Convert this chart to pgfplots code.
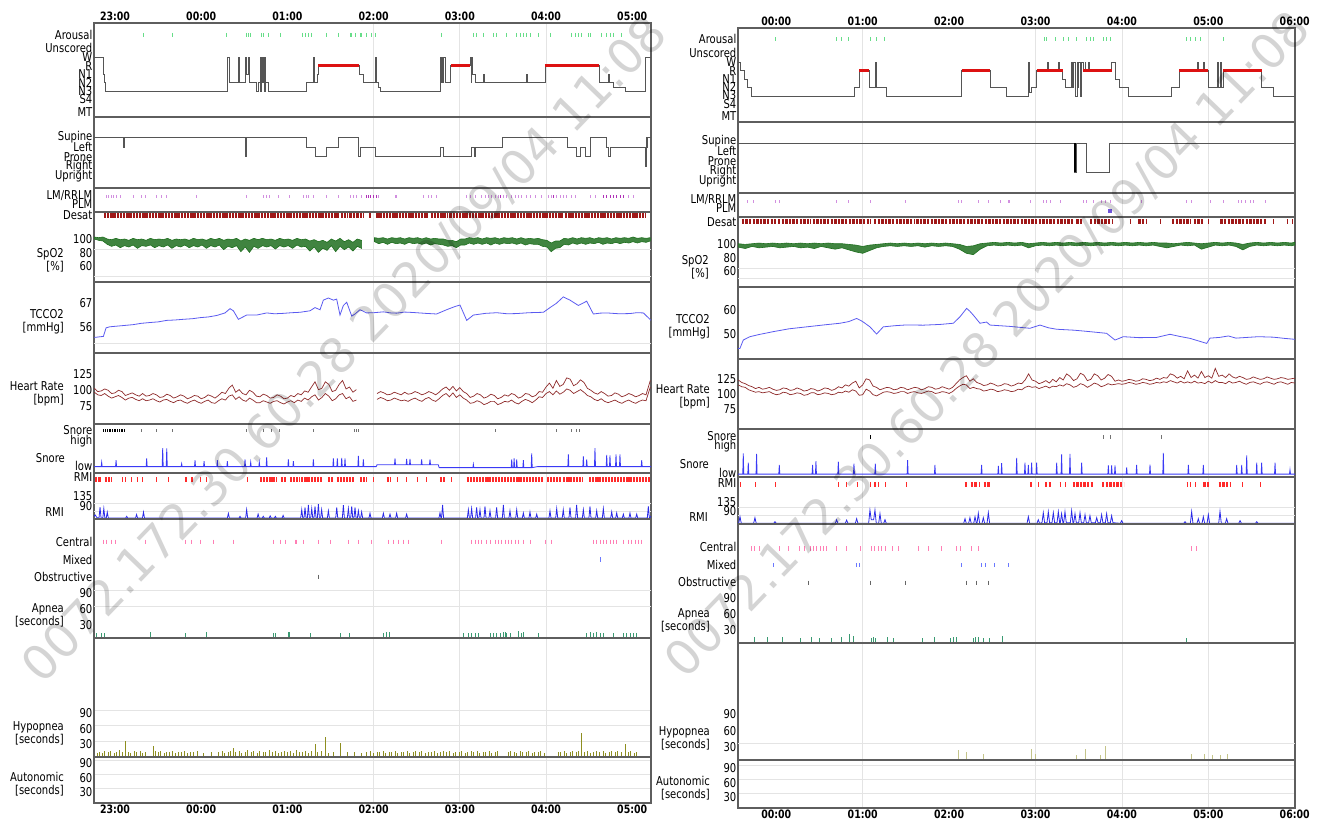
\documentclass[border=0pt]{standalone}
\usepackage{fontspec}
\setmainfont{DejaVu Sans}[FakeStretch=0.82]
\newfontfamily\wmfont{DejaVu Sans}
\usepackage{pgfplots}
\pgfplotsset{compat=1.18}
\definecolor{hyp}{HTML}{555555}
\definecolor{remc}{HTML}{DD1111}
\definecolor{arou}{HTML}{66DD88}
\definecolor{lmc}{HTML}{D28FE0}
\definecolor{lmd}{HTML}{B030B8}
\definecolor{desat}{HTML}{A01818}
\definecolor{spo}{HTML}{1E6E1E}
\definecolor{tcc}{HTML}{5A5AF0}
\definecolor{hrc}{HTML}{8E2A2A}
\definecolor{snc}{HTML}{3A3AF5}
\definecolor{rmiev}{HTML}{FF2A2A}
\definecolor{rmic}{HTML}{2A2AE8}
\definecolor{cenc}{HTML}{FF7FB5}
\definecolor{mixc}{HTML}{6A78FF}
\definecolor{obsc}{HTML}{666666}
\definecolor{apc}{HTML}{3A9A72}
\definecolor{hypc}{HTML}{8E8E20}
\definecolor{hypr}{HTML}{C4C48A}
\definecolor{framec}{HTML}{5E5E5E}
\definecolor{gridc}{HTML}{E4E4E4}
\newcommand{\lab}{\fontsize{12.2}{13.2}\selectfont}
\newcommand{\tim}{\fontsize{11.5}{12}\selectfont\bfseries}
\pgfplotsset{
  base/.style={scale only axis, anchor=north west, width=557pt,
    axis line style={draw=framec, line width=1.6pt},
    major tick length=0pt,
    tick label style={font=\lab, text=black},
    yticklabel style={inner sep=1.5pt},
    xticklabels={}, xmajorgrids,
    major grid style={draw=gridc, line width=0.8pt},
    unbounded coords=jump,
    /pgf/number format/assume math mode=true},
  L/.style={base, xmin=22.756, xmax=29.218, xtick={26,27,28}},
  R/.style={base, xmin=23.557, xmax=30.003, xtick={25,27,28,29}},
  ev/.style={only marks, mark=|, mark size=2pt, mark options={line width=0.9pt}},
  sh/.style={yticklabel style={yshift=-3pt}},
  gl/.style={extra y ticks={#1}, extra y tick labels={}, extra y tick style={grid=major}},
  lbl/.style={scale only axis, anchor=north west, width=557pt, ymin=0, ymax=1, ytick=\empty,
    axis line style={draw=none}, major tick length=0pt,
    xticklabel style={font=\tim, inner sep=2pt}}
}
\newcommand{\sidelab}[3]{\node[anchor=east, align=right, font=\lab, inner sep=0pt] at (#1pt,-#2pt) {#3};}
\begin{document}
\begin{tikzpicture}
\path[use as bounding box] (0,0) rectangle (1318pt,-823pt);
% ================= LEFT PANEL =================
\begin{axis}[L, at={(94pt,-23pt)}, height=94pt, ymin=0, ymax=11,
  ytick={9.6,8.08,7,6,5,4,3,2.1,0.6}, yticklabels={Arousal,Unscored,W,R,N1,N2,N3,S4,MT}]
\addplot[const plot, draw=hyp, line width=0.9pt] coordinates {(22.756,7)(22.864,5)(22.875,4)(22.889,3)(24.307,7)(24.326,4)(24.43,7)(24.44,4)(24.508,7)(24.52,5)(24.547,7)(24.555,4)(24.644,3)(24.66,4)(24.682,7)(24.69,3)(24.70,7)(24.71,4)(24.72,7)(24.73,3)(24.74,7)(24.75,4)(24.778,3)(25.224,4)(25.30,7)(25.315,4)(25.345,5)(25.359,6)(25.834,5)(25.88,4)(26.023,7)(26.035,4)(26.051,3.5)(26.074,3)(26.77,7)(26.78,4)(26.79,7)(26.80,4)(26.81,7)(26.828,4)(26.894,6)(27.118,7)(27.13,4)(27.14,7)(27.15,5)(27.176,4)(27.27,5)(27.28,4)(27.768,5)(27.78,4)(27.988,6)(28.618,4)(28.719,5)(28.734,4)(28.777,3.5)(28.916,3)(29.148,7)(29.218,7)};
\addplot[draw=remc, line width=2.6pt] coordinates {(25.359,6)(25.834,6)(25.834,nan)(26.894,6)(27.118,6)(27.118,nan)(27.988,6)(28.618,6)};
\addplot[ev, color=arou] coordinates {(23.329,9.6)(23.665,9.6)(24.296,9.6)(24.528,9.6)(24.547,9.6)(24.566,9.6)(24.694,9.6)(24.72,9.6)(24.783,9.6)(24.922,9.6)(25.173,9.6)(25.204,9.6)(25.243,9.6)(25.282,9.6)(25.456,9.6)(25.591,9.6)(25.726,9.6)(25.746,9.6)(25.784,9.6)(25.842,9.6)(25.862,9.6)(25.92,9.6)(25.978,9.6)(26.016,9.6)(26.79,9.6)(27.157,9.6)(27.188,9.6)(27.273,9.6)(27.389,9.6)(27.428,9.6)(27.544,9.6)(27.66,9.6)(27.698,9.6)(27.737,9.6)(27.776,9.6)(27.814,9.6)(27.911,9.6)(28.046,9.6)(28.298,9.6)(28.336,9.6)(28.375,9.6)(28.414,9.6)(28.491,9.6)(28.51,9.6)(28.646,9.6)(28.704,9.6)(28.742,9.6)(28.781,9.6)(28.878,9.6)};
\end{axis}
\begin{axis}[L, at={(94pt,-117pt)}, height=71pt, ymin=-0.24, ymax=7.1,
  ytick={5,4,3,2,1}, yticklabels={Supine,Left,Prone,Right,Upright}]
\addplot[const plot, draw=hyp, line width=0.9pt] coordinates {(22.756,5)(23.1,4)(23.106,5)(24.513,3)(24.519,5)(25.224,4)(25.32,3)(25.448,4)(25.591,5)(25.823,3)(25.842,4)(26.016,3)(26.77,4)(26.805,3)(27.138,4)(27.17,3)(27.18,4)(27.498,5)(28.247,4)(28.357,3)(28.403,4)(28.453,3)(28.51,5)(28.696,4)(28.719,3)(28.742,4)(29.148,2)(29.16,5)(29.172,4)(29.18,5)(29.218,5)};
\end{axis}
\begin{axis}[L, at={(94pt,-188pt)}, height=24pt, ymin=0, ymax=1,
  ytick={0.67,0.33}, yticklabels={LM/RRLM,PLM}]
\addplot[ev, color=lmc, mark size=1.6pt] coordinates {(22.896,0.64)(22.923,0.64)(22.954,0.64)(22.98,0.64)(23.019,0.64)(23.066,0.64)(23.213,0.64)(23.309,0.64)(23.348,0.64)(23.483,0.64)(23.541,0.64)(23.6,0.64)(23.94,0.64)(24.527,0.64)(24.721,0.64)(24.76,0.64)(24.79,0.64)(24.895,0.64)(25.022,0.64)(25.185,0.64)(25.216,0.64)(25.243,0.64)(25.301,0.64)(25.448,0.64)(25.591,0.64)(25.726,0.64)(25.765,0.64)(25.804,0.64)(25.862,0.64)(26.055,0.64)(26.248,0.64)(26.267,0.64)(26.577,0.64)(26.635,0.64)(26.673,0.64)(26.731,0.64)(27.08,0.64)(27.118,0.64)(27.176,0.64)(27.253,0.64)(27.292,0.64)(27.331,0.64)(27.37,0.64)(27.408,0.64)(27.447,0.64)(27.505,0.64)(27.544,0.64)(27.602,0.64)(27.64,0.64)(27.679,0.64)(27.718,0.64)(27.776,0.64)(27.814,0.64)(27.872,0.64)(27.95,0.64)(28.027,0.64)(28.066,0.64)(28.124,0.64)(28.162,0.64)(28.201,0.64)(28.24,0.64)(28.298,0.64)(28.336,0.64)(28.51,0.64)(28.568,0.64)(28.955,0.64)(29.013,0.64)};
\addplot[ev, color=lmd, mark size=1.6pt] coordinates {(25.92,0.64)(25.939,0.64)(25.958,0.64)(25.997,0.64)(26.036,0.64)(27.466,0.64)(28.085,0.64)(28.665,0.64)(28.704,0.64)(28.742,0.64)(28.781,0.64)(28.82,0.64)(28.858,0.64)(28.897,0.64)};
\end{axis}
\begin{axis}[L, sh, at={(94pt,-212pt)}, height=70pt, ymin=31.5, ymax=136.5,
  ytick={136.3,100,80,60}, yticklabels={Desat,100,80,60}, gl={80,40}]
\addplot[draw=desat, line width=5pt, dash pattern=on 2.4pt off 0.8pt] coordinates {(22.87,131.3)(25.6,131.3)(25.6,nan)(25.62,131.3)(25.7,131.3)(25.7,nan)(25.72,131.3)(25.78,131.3)(25.78,nan)(25.8,131.3)(25.88,131.3)(25.88,nan)(25.95,131.3)(25.97,131.3)(25.97,nan)(26.03,131.3)(26.63,131.3)(26.63,nan)(26.66,131.3)(26.85,131.3)(26.85,nan)(26.88,131.3)(28.2,131.3)(28.2,nan)(28.22,131.3)(29.15,131.3)};
\addplot[fill=spo!85, draw=spo, line width=0.6pt] coordinates {(22.76,99)(22.81,98)(22.86,99)(22.91,96)(22.96,95)(23.01,97)(23.06,95)(23.11,96)(23.16,94)(23.21,97)(23.26,95)(23.31,96)(23.36,94)(23.41,97)(23.46,95)(23.51,96)(23.56,95)(23.61,97)(23.66,94)(23.71,96)(23.76,95)(23.81,96)(23.86,94)(23.91,97)(23.96,95)(24.01,96)(24.06,94)(24.11,97)(24.16,95)(24.21,97)(24.26,94)(24.31,96)(24.36,95)(24.41,97)(24.46,93)(24.51,96)(24.56,94)(24.61,97)(24.66,95)(24.71,97)(24.76,95)(24.81,96)(24.86,94)(24.91,97)(24.96,95)(25.01,96)(25.06,94)(25.11,97)(25.16,95)(25.21,96)(25.26,93)(25.31,95)(25.36,92)(25.41,94)(25.46,91)(25.51,96)(25.56,93)(25.61,97)(25.66,92)(25.71,95)(25.76,91)(25.81,96)(25.86,94)
(25.86,82)(25.81,85)(25.76,78)(25.71,84)(25.66,80)(25.61,85)(25.56,77)(25.51,86)(25.46,79)(25.41,82)(25.36,76)(25.31,84)(25.26,78)(25.21,85)(25.16,84)(25.11,87)(25.06,82)(25.01,86)(24.96,84)(24.91,86)(24.86,81)(24.81,86)(24.76,84)(24.71,86)(24.66,82)(24.61,85)(24.56,76)(24.51,84)(24.46,77)(24.41,86)(24.36,83)(24.31,85)(24.26,80)(24.21,87)(24.16,84)(24.11,86)(24.06,82)(24.01,87)(23.96,84)(23.91,86)(23.86,83)(23.81,87)(23.76,84)(23.71,86)(23.66,82)(23.61,87)(23.56,84)(23.51,86)(23.46,83)(23.41,87)(23.36,85)(23.31,86)(23.26,82)(23.21,87)(23.16,84)(23.11,86)(23.06,83)(23.01,87)(22.96,85)(22.91,88)(22.86,93)(22.81,94)(22.76,96)} -- cycle;
\addplot[fill=spo!85, draw=spo, line width=0.6pt] coordinates {(26.01,98)(26.06,97)(26.11,98)(26.16,96)(26.21,98)(26.26,97)(26.31,98)(26.36,96)(26.41,98)(26.46,97)(26.51,98)(26.56,96)(26.61,98)(26.66,96)(26.71,97)(26.76,96)(26.81,96)(26.86,94)(26.91,94)(26.96,92)(27.01,96)(27.06,96)(27.11,98)(27.16,97)(27.21,98)(27.26,96)(27.31,98)(27.36,97)(27.41,98)(27.46,96)(27.51,98)(27.56,97)(27.61,98)(27.66,96)(27.71,98)(27.76,96)(27.81,97)(27.86,96)(27.91,97)(27.96,95)(28.01,94)(28.06,90)(28.11,93)(28.16,93)(28.21,97)(28.26,96)(28.31,98)(28.36,96)(28.41,98)(28.46,97)(28.51,98)(28.56,96)(28.61,98)(28.66,97)(28.71,98)(28.76,96)(28.81,98)(28.86,97)(28.91,98)(28.96,97)(29.01,99)(29.06,97)(29.11,98)(29.16,97)(29.21,98)
(29.21,93)(29.16,91)(29.11,92)(29.06,90)(29.01,92)(28.96,90)(28.91,91)(28.86,89)(28.81,91)(28.76,89)(28.71,90)(28.66,88)(28.61,91)(28.56,89)(28.51,90)(28.46,88)(28.41,90)(28.36,88)(28.31,90)(28.26,87)(28.21,88)(28.16,83)(28.11,82)(28.06,77)(28.01,84)(27.96,85)(27.91,88)(27.86,88)(27.81,89)(27.76,87)(27.71,90)(27.66,88)(27.61,90)(27.56,89)(27.51,90)(27.46,88)(27.41,90)(27.36,87)(27.31,90)(27.26,88)(27.21,90)(27.16,88)(27.11,90)(27.06,87)(27.01,87)(26.96,83)(26.91,86)(26.86,85)(26.81,87)(26.76,88)(26.71,89)(26.66,87)(26.61,90)(26.56,88)(26.51,90)(26.46,89)(26.41,91)(26.36,88)(26.31,90)(26.26,89)(26.21,91)(26.16,88)(26.11,91)(26.06,89)(26.01,92)} -- cycle;
\end{axis}
\begin{axis}[L, at={(94pt,-282pt)}, height=71pt, ymin=43.7, ymax=77,
  ytick={67,56}, gl={48}]
\addplot[draw=tcc, line width=0.8pt] coordinates {(22.76,51)(22.865,51.5)(22.896,55.5)(22.94,56)(23.05,56.4)(23.21,57)(23.3,57.6)(23.406,58)(23.5,58.3)(23.6,59)(23.7,59.2)(23.79,59.5)(23.9,59.8)(23.99,60.3)(24.08,60.6)(24.18,61.3)(24.276,62.5)(24.334,64.5)(24.373,63.5)(24.431,59.5)(24.527,61.5)(24.643,61.5)(24.76,62.5)(24.85,62.1)(24.953,62.3)(25.05,62.6)(25.146,62.8)(25.262,63.5)(25.32,65)(25.378,64)(25.417,68.5)(25.475,69.5)(25.533,68.5)(25.571,69)(25.61,61.5)(25.649,66)(25.688,67.5)(25.746,61)(25.784,62)(25.842,64)(25.92,62.5)(26.0,62.6)(26.113,63)(26.2,62.5)(26.267,62.4)(26.36,62.9)(26.46,62.7)(26.6,62.3)(26.73,62.0)(26.847,64)(26.944,65.5)(27.002,66.2)(27.08,59)(27.157,61.5)(27.3,62.3)(27.43,62.6)(27.55,62.1)(27.66,62.2)(27.8,62.6)(27.97,62.8)(28.046,65)(28.12,67)(28.2,70)(28.278,68.5)(28.375,66)(28.472,68)(28.549,62)(28.63,62.4)(28.704,62.5)(28.85,62.1)(28.974,62.2)(29.05,62.6)(29.13,62.5)(29.218,59)};
\end{axis}
\begin{axis}[L, sh, at={(94pt,-353pt)}, height=71pt, ymin=43.3, ymax=152.1,
  ytick={125,100,75}]
\addplot[draw=hrc, line width=0.7pt] coordinates {(22.76,98)(22.8,93)(22.84,94)(22.88,97)(22.92,95)(22.96,90)(23.00,91)(23.04,95)(23.08,93)(23.12,87)(23.16,89)(23.2,91)(23.24,88)(23.28,86)(23.32,90)(23.36,86)(23.40,87)(23.44,90)(23.48,88)(23.52,84)(23.56,85)(23.6,89)(23.64,87)(23.68,83)(23.72,85)(23.76,88)(23.80,86)(23.84,82)(23.88,84)(23.92,87)(23.96,86)(24.0,82)(24.04,84)(24.08,88)(24.12,86)(24.16,83)(24.20,87)(24.24,92)(24.28,90)(24.32,98)(24.36,103)(24.4,92)(24.44,96)(24.48,90)(24.52,88)(24.56,95)(24.60,92)(24.64,86)(24.68,85)(24.72,89)(24.76,87)(24.8,83)(24.84,84)(24.88,88)(24.92,86)(24.96,82)(25.00,83)(25.04,87)(25.08,85)(25.12,90)(25.16,88)(25.2,94)(25.24,92)(25.28,100)(25.32,108)(25.36,96)(25.40,98)(25.44,108)(25.48,104)(25.52,93)(25.56,95)(25.6,104)(25.64,110)(25.68,97)(25.72,100)(25.76,92)(25.80,96)(25.85,nan)(26.04,90)(26.08,93)(26.12,91)(26.16,88)(26.20,89)(26.24,92)(26.28,90)(26.32,88)(26.36,92)(26.4,89)(26.44,90)(26.48,93)(26.52,91)(26.56,88)(26.60,90)(26.64,93)(26.68,91)(26.72,88)(26.76,92)(26.8,97)(26.84,100)(26.88,95)(26.92,101)(26.96,94)(27.00,99)(27.04,93)(27.08,90)(27.12,84)(27.16,86)(27.2,90)(27.24,88)(27.28,83)(27.32,85)(27.36,89)(27.40,87)(27.44,82)(27.48,84)(27.52,88)(27.56,86)(27.6,90)(27.64,88)(27.68,83)(27.72,85)(27.76,90)(27.80,89)(27.84,85)(27.88,87)(27.92,93)(27.96,92)(28.0,100)(28.04,106)(28.08,98)(28.12,110)(28.16,101)(28.20,104)(28.24,114)(28.28,112)(28.32,102)(28.36,105)(28.4,111)(28.44,107)(28.48,98)(28.52,95)(28.56,91)(28.60,89)(28.64,93)(28.68,90)(28.72,86)(28.76,87)(28.8,91)(28.84,89)(28.88,85)(28.92,87)(28.96,90)(29.00,88)(29.04,85)(29.08,87)(29.12,90)(29.16,88)(29.21,110)};
\addplot[draw=hrc, line width=0.7pt] coordinates {(22.76,92)(22.8,88)(22.84,87)(22.88,90)(22.92,86)(22.96,83)(23.00,85)(23.04,87)(23.08,84)(23.12,80)(23.16,83)(23.2,84)(23.24,81)(23.28,79)(23.32,82)(23.36,79)(23.40,80)(23.44,82)(23.48,79)(23.52,77)(23.56,80)(23.6,81)(23.64,78)(23.68,76)(23.72,79)(23.76,80)(23.80,77)(23.84,75)(23.88,78)(23.92,80)(23.96,77)(24.0,75)(24.04,78)(24.08,80)(24.12,76)(24.16,75)(24.20,79)(24.24,82)(24.28,80)(24.32,86)(24.36,88)(24.4,81)(24.44,85)(24.48,80)(24.52,78)(24.56,83)(24.60,80)(24.64,76)(24.68,76)(24.72,79)(24.76,77)(24.8,75)(24.84,78)(24.88,79)(24.92,76)(24.96,74)(25.00,77)(25.04,79)(25.08,76)(25.12,80)(25.16,78)(25.2,83)(25.24,80)(25.28,85)(25.32,88)(25.36,80)(25.40,84)(25.44,90)(25.48,86)(25.52,79)(25.56,82)(25.6,88)(25.64,90)(25.68,82)(25.72,85)(25.76,78)(25.80,80)(25.85,nan)(26.04,81)(26.08,84)(26.12,82)(26.16,79)(26.20,80)(26.24,83)(26.28,81)(26.32,79)(26.36,80)(26.4,78)(26.44,81)(26.48,83)(26.52,80)(26.56,78)(26.60,82)(26.64,84)(26.68,80)(26.72,78)(26.76,82)(26.8,87)(26.84,90)(26.88,85)(26.92,91)(26.96,84)(27.00,88)(27.04,83)(27.08,80)(27.12,75)(27.16,76)(27.2,79)(27.24,77)(27.28,73)(27.32,75)(27.36,78)(27.40,78)(27.44,73)(27.48,75)(27.52,78)(27.56,77)(27.6,80)(27.64,76)(27.68,74)(27.72,78)(27.76,81)(27.80,79)(27.84,76)(27.88,80)(27.92,85)(27.96,84)(28.0,90)(28.04,93)(28.08,88)(28.12,94)(28.16,89)(28.20,92)(28.24,97)(28.28,95)(28.32,90)(28.36,93)(28.4,96)(28.44,92)(28.48,87)(28.52,85)(28.56,81)(28.60,79)(28.64,82)(28.68,78)(28.72,76)(28.76,78)(28.8,80)(28.84,77)(28.88,75)(28.92,78)(28.96,80)(29.00,77)(29.04,75)(29.08,78)(29.12,80)(29.16,79)(29.21,100)};
\end{axis}
\begin{axis}[L, at={(94pt,-424pt)}, height=49pt, ymin=0, ymax=10,
  ytick={8.78,6.6,1.43}, yticklabels={Snore,high,low}]
\addplot[ev, color=black, mark size=1.6pt] coordinates {(22.87,8.64)(22.89,8.64)(22.91,8.64)(22.93,8.64)(22.95,8.64)(22.97,8.64)(22.99,8.64)(23.01,8.64)(23.03,8.64)(23.05,8.64)(23.07,8.64)(23.09,8.64)(23.11,8.64)};
\addplot[ev, color=black!55, mark size=1.6pt] coordinates {(23.31,8.64)(23.48,8.64)(23.67,8.64)(24.53,8.64)(24.72,8.64)(24.82,8.64)(24.91,8.64)(25.30,8.64)(25.78,8.64)(25.80,8.64)(25.82,8.64)(27.41,8.64)(28.124,8.64)(28.30,8.64)(28.35,8.64)(28.39,8.64)};
\addplot[draw=snc, line width=0.8pt] coordinates {(22.76,1.3)(22.839,1.3)(22.845,2.2)(22.851,1.3)(23.006,1.3)(23.012,2.6)(23.018,1.3)(23.361,1.3)(23.367,3.0)(23.373,1.3)(23.547,1.3)(23.553,5.1)(23.559,1.3)(23.594,1.3)(23.6,5.0)(23.606,1.3)(23.767,1.3)(23.773,1.9)(23.779,1.3)(23.922,1.3)(23.928,2.6)(23.934,1.3)(24.027,1.3)(24.033,2.4)(24.039,1.3)(24.181,1.3)(24.187,2.6)(24.193,1.3)(24.297,1.3)(24.303,2.4)(24.309,1.3)(24.502,1.3)(24.508,2.8)(24.514,1.3)(24.568,1.3)(24.574,2.2)(24.58,1.3)(24.668,1.3)(24.674,2.2)(24.68,1.3)(24.753,1.3)(24.759,3.2)(24.765,1.3)(25.005,1.3)(25.011,2.8)(25.017,1.3)(25.063,1.3)(25.069,2.4)(25.075,1.3)(25.295,1.3)(25.301,2.8)(25.307,1.3)(25.527,1.3)(25.533,3.0)(25.539,1.3)(25.573,1.3)(25.579,3.0)(25.585,1.3)(25.624,1.3)(25.63,3.1)(25.636,1.3)(25.662,1.3)(25.668,3.0)(25.674,1.3)(25.817,1.3)(25.823,3.5)(25.829,1.3)(25.875,1.3)(25.881,2.8)(25.887,1.3)(26.03,1.3)(26.04,1.7)(26.242,1.7)(26.248,3.0)(26.254,1.7)(26.377,1.7)(26.383,2.9)(26.389,1.7)(26.416,1.7)(26.422,2.9)(26.428,1.7)(26.551,1.7)(26.557,2.8)(26.563,1.7)(26.648,1.7)(26.654,2.8)(26.66,1.7)(26.75,1.7)(26.76,1.1)(27.151,1.1)(27.157,1.8)(27.163,1.1)(27.596,1.1)(27.602,2.8)(27.608,1.1)(27.624,1.1)(27.63,3.0)(27.636,1.1)(27.654,1.1)(27.66,2.8)(27.666,1.1)(27.731,1.1)(27.737,2.6)(27.743,1.1)(27.828,1.1)(27.834,4.0)(27.84,1.1)(27.9,1.3)(28.253,1.3)(28.259,3.8)(28.265,1.3)(28.427,1.3)(28.433,3.4)(28.439,1.3)(28.466,1.3)(28.472,2.8)(28.478,1.3)(28.562,1.3)(28.568,5.1)(28.574,1.3)(28.698,1.3)(28.704,3.7)(28.71,1.3)(28.736,1.3)(28.742,3.6)(28.748,1.3)(28.806,1.3)(28.812,3.8)(28.818,1.3)(28.852,1.3)(28.858,3.8)(28.864,1.3)(29.104,1.3)(29.11,2.6)(29.116,1.3)(29.218,1.3)};
\end{axis}
\begin{axis}[L, sh, at={(94pt,-473pt)}, height=46pt, ymin=18, ymax=225,
  ytick={222,135,90}, yticklabels={RMI,135,90}, gl={90,50}]
\addplot[draw=rmiev, line width=5pt, dash pattern=on 2.2pt off 0.9pt] coordinates {(22.77,196.7)(22.84,196.7)(22.84,nan)(22.88,196.7)(22.97,196.7)(22.97,nan)(23.08,196.7)(23.09,196.7)(23.09,nan)(23.12,196.7)(23.13,196.7)(23.13,nan)(23.19,196.7)(23.2,196.7)(23.2,nan)(23.25,196.7)(23.26,196.7)(23.26,nan)(23.31,196.7)(23.32,196.7)(23.32,nan)(23.48,196.7)(23.49,196.7)(23.49,nan)(23.62,196.7)(23.63,196.7)(23.63,nan)(23.81,196.7)(23.83,196.7)(23.83,nan)(23.88,196.7)(23.9,196.7)(23.9,nan)(23.99,196.7)(24.0,196.7)(24.0,nan)(24.06,196.7)(24.07,196.7)(24.07,nan)(24.53,196.7)(24.54,196.7)(24.54,nan)(24.68,196.7)(24.77,196.7)(24.77,nan)(24.79,196.7)(24.88,196.7)(24.88,nan)(24.92,196.7)(24.99,196.7)(24.99,nan)(25.03,196.7)(25.14,196.7)(25.14,nan)(25.16,196.7)(25.41,196.7)(25.41,nan)(25.47,196.7)(25.53,196.7)(25.53,nan)(25.57,196.7)(25.78,196.7)(25.78,nan)(25.84,196.7)(25.92,196.7)(25.92,nan)(25.99,196.7)(26.0,196.7)(26.0,nan)(26.15,196.7)(26.19,196.7)(26.19,nan)(26.27,196.7)(26.28,196.7)(26.28,nan)(26.38,196.7)(26.39,196.7)(26.39,nan)(26.5,196.7)(26.51,196.7)(26.51,nan)(26.61,196.7)(26.62,196.7)(26.62,nan)(26.77,196.7)(26.83,196.7)(26.83,nan)(26.9,196.7)(26.91,196.7)(26.91,nan)(27.08,196.7)(27.97,196.7)(27.97,nan)(28.01,196.7)(28.17,196.7)(28.17,nan)(28.2,196.7)(28.43,196.7)(28.43,nan)(28.5,196.7)(29.21,196.7)};
\addplot[draw=rmic, line width=0.8pt] coordinates {(22.756,30)(22.77,36)(22.79,24)(22.814,22)(22.826,71)(22.838,22)(22.858,22)(22.87,65)(22.882,22)(22.898,22)(22.91,49)(22.922,22)(23.123,22)(23.135,30)(23.147,22)(23.238,22)(23.25,38)(23.262,22)(23.318,22)(23.33,49)(23.342,22)(24.303,22)(24.315,43)(24.327,22)(24.438,22)(24.45,30)(24.462,22)(24.515,22)(24.527,60)(24.539,22)(24.648,22)(24.66,40)(24.672,22)(24.708,22)(24.72,30)(24.732,22)(24.788,22)(24.8,32)(24.812,22)(24.848,22)(24.86,30)(24.872,22)(24.938,22)(24.95,34)(24.962,22)(25.154,22)(25.166,60)(25.178,22)(25.192,22)(25.204,70)(25.216,22)(25.231,22)(25.243,81)(25.255,22)(25.27,22)(25.282,65)(25.294,22)(25.308,22)(25.32,75)(25.332,22)(25.347,22)(25.359,85)(25.371,22)(25.385,22)(25.397,60)(25.409,22)(25.463,22)(25.475,55)(25.487,22)(25.56,22)(25.572,70)(25.584,22)(25.637,22)(25.649,80)(25.661,22)(25.695,22)(25.707,65)(25.719,22)(25.734,22)(25.746,75)(25.758,22)(25.772,22)(25.784,70)(25.796,22)(25.811,22)(25.823,55)(25.835,22)(25.849,22)(25.861,50)(25.873,22)(25.946,22)(25.958,44)(25.97,22)(26.101,22)(26.113,44)(26.125,22)(26.178,22)(26.19,40)(26.202,22)(26.255,22)(26.267,44)(26.279,22)(26.371,22)(26.383,40)(26.395,22)(26.758,22)(26.77,45)(26.782,22)(26.788,22)(26.8,81)(26.812,22)(27.087,22)(27.099,60)(27.111,22)(27.125,22)(27.137,65)(27.149,22)(27.183,22)(27.195,70)(27.207,22)(27.222,22)(27.234,60)(27.246,22)(27.28,22)(27.292,75)(27.304,22)(27.338,22)(27.35,55)(27.362,22)(27.415,22)(27.427,70)(27.439,22)(27.493,22)(27.505,81)(27.517,22)(27.57,22)(27.582,55)(27.594,22)(27.648,22)(27.66,60)(27.672,22)(27.725,22)(27.737,45)(27.749,22)(27.802,22)(27.814,50)(27.826,22)(27.88,22)(27.892,40)(27.904,22)(28.034,22)(28.046,55)(28.058,22)(28.112,22)(28.124,65)(28.136,22)(28.188,22)(28.2,60)(28.212,22)(28.266,22)(28.278,70)(28.29,22)(28.343,22)(28.355,81)(28.367,22)(28.421,22)(28.433,60)(28.445,22)(28.498,22)(28.51,75)(28.522,22)(28.576,22)(28.588,55)(28.6,22)(28.653,22)(28.665,65)(28.677,22)(28.75,22)(28.762,50)(28.774,22)(28.808,22)(28.82,45)(28.832,22)(28.885,22)(28.897,40)(28.909,22)(28.962,22)(28.974,45)(28.986,22)(29.04,22)(29.052,40)(29.064,22)(29.175,22)(29.187,75)(29.199,22)(29.218,30)};
\end{axis}
\begin{axis}[L, sh, at={(94pt,-519pt)}, height=119pt, ymin=0, ymax=223.3,
  ytick={186,153,120.6,90,60,30}, yticklabels={Central,Mixed,Obstructive,90,60,30}, gl={90,60}]
\addplot[ev, color=cenc, mark size=2.2pt] coordinates {(22.865,180.6)(22.903,180.6)(22.961,180.6)(23.0,180.6)(23.348,180.6)(23.812,180.6)(23.889,180.6)(23.986,180.6)(24.141,180.6)(24.373,180.6)(24.837,180.6)(24.914,180.6)(24.972,180.6)(25.088,180.6)(25.108,180.6)(25.185,180.6)(25.359,180.6)(25.494,180.6)(25.707,180.6)(25.823,180.6)(25.978,180.6)(26.17,180.6)(26.229,180.6)(26.287,180.6)(26.345,180.6)(26.403,180.6)(26.789,180.6)(27.137,180.6)(27.176,180.6)(27.215,180.6)(27.253,180.6)(27.311,180.6)(27.35,180.6)(27.408,180.6)(27.447,180.6)(27.486,180.6)(27.524,180.6)(27.563,180.6)(27.602,180.6)(27.64,180.6)(27.68,180.6)(27.737,180.6)(27.814,180.6)(27.988,180.6)(28.066,180.6)(28.549,180.6)(28.588,180.6)(28.626,180.6)(28.665,180.6)(28.704,180.6)(28.742,180.6)(28.781,180.6)(28.82,180.6)(28.897,180.6)(28.955,180.6)(28.994,180.6)(29.033,180.6)(29.071,180.6)(29.11,180.6)};
\addplot[ev, color=mixc, mark size=2.2pt] coordinates {(28.626,147.6)};
\addplot[ev, color=obsc, mark size=2.2pt] coordinates {(25.359,115)};
\addplot[ycomb, draw=apc, line width=0.9pt] coordinates {(22.787,10)(22.845,9)(22.872,10)(23.406,12)(23.812,9)(24.063,11)(24.837,9)(24.856,10)(25.011,12)(25.022,12)(25.27,9)(25.618,10)(25.718,10)(26.113,10)(26.152,11)(26.183,11)(27.04,9)(27.099,10)(27.137,9)(27.176,10)(27.215,9)(27.35,10)(27.389,9)(27.427,10)(27.466,9)(27.505,12)(27.524,11)(27.544,10)(27.582,9)(27.679,13)(27.718,9)(27.737,11)(27.911,10)(28.472,10)(28.511,11)(28.549,9)(28.588,12)(28.626,10)(28.665,9)(28.781,10)(28.897,9)(28.936,10)(28.974,9)(29.013,10)(29.052,9)};
\end{axis}
\begin{axis}[L, sh, at={(94pt,-638pt)}, height=119pt, ymin=0, ymax=227.5,
  ytick={90,60,30}, ymajorgrids]
\addplot[ycomb, draw=hypc, line width=0.8pt] coordinates {(22.79,8)(22.82,10)(22.85,7)(22.88,12)(22.92,9)(22.95,11)(22.99,8)(23.02,10)(23.05,13)(23.09,9)(23.116,31)(23.15,10)(23.18,8)(23.22,12)(23.25,9)(23.29,11)(23.32,8)(23.35,10)(23.445,22)(23.47,11)(23.5,9)(23.53,12)(23.57,8)(23.6,10)(23.63,9)(23.67,11)(23.7,8)(23.74,10)(23.77,9)(23.81,12)(23.84,8)(23.88,10)(23.91,9)(23.95,11)(24.03,8)(24.12,10)(24.2,9)(24.24,11)(24.27,8)(24.31,10)(24.34,12)(24.373,18)(24.4,9)(24.44,11)(24.47,8)(24.51,10)(24.54,13)(24.58,9)(24.61,11)(24.65,8)(24.68,12)(24.72,9)(24.75,10)(24.79,14)(24.82,9)(24.86,11)(24.89,8)(24.93,10)(24.96,12)(25.0,9)(25.03,11)(25.07,8)(25.1,13)(25.14,9)(25.17,10)(25.21,12)(25.24,8)(25.28,11)(25.32,24)(25.35,9)(25.39,12)(25.436,39)(25.48,8)(25.53,10)(25.61,27)(25.7,9)(25.78,10)(25.86,8)(25.92,9)(25.96,11)(26.0,8)(26.04,10)(26.07,9)(26.11,11)(26.14,8)(26.18,10)(26.21,9)(26.25,12)(26.28,8)(26.32,10)(26.35,9)(26.39,11)(26.42,8)(26.46,10)(26.49,12)(26.53,9)(26.56,11)(26.6,8)(26.63,10)(26.67,9)(26.7,12)(26.74,8)(26.78,10)(26.81,11)(26.85,9)(26.88,12)(26.92,8)(26.95,10)(26.99,9)(27.02,11)(27.06,8)(27.09,10)(27.13,12)(27.16,9)(27.2,11)(27.23,8)(27.27,10)(27.3,9)(27.34,12)(27.37,8)(27.41,10)(27.44,11)(27.56,9)(27.59,12)(27.63,10)(27.66,8)(27.7,11)(27.73,9)(27.77,10)(27.8,12)(27.84,8)(27.87,10)(27.91,9)(27.94,11)(27.98,8)(28.14,10)(28.17,9)(28.21,12)(28.24,8)(28.28,10)(28.31,11)(28.35,9)(28.38,12)(28.413,45)(28.45,9)(28.48,11)(28.52,8)(28.55,10)(28.59,12)(28.62,9)(28.66,11)(28.69,8)(28.73,10)(28.76,12)(28.8,9)(28.83,11)(28.87,10)(28.916,25)(28.95,9)(28.98,11)(29.02,8)(29.05,10)};
\end{axis}
\begin{axis}[L, sh, at={(94pt,-757pt)}, height=46pt, ymin=0, ymax=97,
  ytick={90,60,30}, ymajorgrids]
\end{axis}
\begin{axis}[lbl, at={(94pt,-23pt)}, height=780pt, xmin=22.756, xmax=29.218,
  xtick={23,24,25,26,27,28,29}, xticklabels={23:00,00:00,01:00,02:00,03:00,04:00,05:00}, xticklabel pos=upper]
\end{axis}
\begin{axis}[lbl, at={(94pt,-23pt)}, height=780pt, xmin=22.756, xmax=29.218,
  xtick={23,24,25,26,27,28,29}, xticklabels={23:00,00:00,01:00,02:00,03:00,04:00,05:00}]
\end{axis}
\sidelab{64}{260}{SpO2\\{[\%]}}
\sidelab{64}{322}{TCCO2\\{[mmHg]}}
\sidelab{64}{394}{Heart Rate\\{[bpm]}}
\sidelab{65}{458}{Snore}
\sidelab{64}{512}{RMI}
\sidelab{64}{615}{Apnea\\{[seconds]}}
\sidelab{64}{733}{Hypopnea\\{[seconds]}}
\sidelab{64}{784}{Autonomic\\{[seconds]}}
% ================= RIGHT PANEL =================
\begin{axis}[R, at={(738pt,-28pt)}, height=94pt, ymin=0, ymax=11,
  ytick={9.7,8.08,7,6,5,4.05,3.1,2.1,0.7}, yticklabels={Arousal,Unscored,W,R,N1,N2,N3,S4,MT}]
\addplot[const plot, draw=hyp, line width=0.9pt] coordinates {(23.557,7)(23.591,6)(23.626,5)(23.672,4)(23.707,3)(24.903,4)(24.961,6)(25.076,4)(25.150,7)(25.160,4)(25.278,3)(26.146,6)(26.473,4)(26.667,3)(26.917,7)(26.928,3.5)(26.95,4)(27.014,6)(27.137,7)(27.145,6)(27.264,7)(27.272,6)(27.315,5)(27.341,4)(27.419,7)(27.425,4)(27.44,7)(27.46,3)(27.48,7)(27.49,4)(27.50,7)(27.515,3)(27.53,7)(27.553,6)(27.573,7)(27.58,6)(27.611,7)(27.62,6)(27.882,7)(27.920,5)(27.970,4)(28.074,3)(28.576,4)(28.664,6)(28.873,7)(28.88,6)(28.942,7)(28.95,6)(29.0,4)(29.109,7)(29.12,4)(29.14,7)(29.155,4)(29.174,6)(29.618,4)(29.752,3)(30.003,3)};
\addplot[draw=remc, line width=2.6pt] coordinates {(24.961,6)(25.076,6)(25.076,nan)(26.146,6)(26.473,6)(26.473,nan)(27.014,6)(27.315,6)(27.315,nan)(27.553,6)(27.882,6)(27.882,nan)(28.664,6)(29.0,6)(29.0,nan)(29.174,6)(29.618,6)};
\addplot[ev, color=arou] coordinates {(23.993,9.7)(24.699,9.7)(24.757,9.7)(24.833,9.7)(25.084,9.7)(25.162,9.7)(25.247,9.7)(27.098,9.7)(27.13,9.7)(27.226,9.7)(27.322,9.7)(27.38,9.7)(27.477,9.7)(27.593,9.7)(27.631,9.7)(27.669,9.7)(27.785,9.7)(27.824,9.7)(27.862,9.7)(28.75,9.7)(28.788,9.7)(28.846,9.7)(28.904,9.7)(29.174,9.7)};
\end{axis}
\begin{axis}[R, at={(738pt,-122pt)}, height=71pt, ymin=-0.12, ymax=7.2,
  ytick={5.2,4.2,3.2,2.15,1.1}, yticklabels={Supine,Left,Prone,Right,Upright}]
\addplot[const plot, draw=hyp, line width=0.9pt] coordinates {(23.557,5)(27.45,2)(27.47,5)(27.593,2)(27.854,5)(30.003,5)};
\addplot[draw=black, line width=2.4pt] coordinates {(27.457,5)(27.457,2)};
\end{axis}
\begin{axis}[R, at={(738pt,-193pt)}, height=24pt, ymin=0, ymax=1,
  ytick={0.71,0.36}, yticklabels={LM/RRLM,PLM}]
\addplot[ev, color=lmc, mark size=1.6pt] coordinates {(23.664,0.64)(23.741,0.64)(23.985,0.64)(24.042,0.64)(24.698,0.64)(24.833,0.64)(25.084,0.64)(25.497,0.64)(26.106,0.64)(26.145,0.64)(26.338,0.64)(26.454,0.64)(26.589,0.64)(26.685,0.64)(26.704,0.64)(26.936,0.64)(27.09,0.64)(27.129,0.64)(27.167,0.64)(27.283,0.64)(27.553,0.64)(27.592,0.64)(27.669,0.64)(27.765,0.64)(27.804,0.64)(27.862,0.64)(28.229,0.64)(28.749,0.64)(28.807,0.64)(29.019,0.64)(29.174,0.64)(29.347,0.64)(29.386,0.64)(29.425,0.64)(29.482,0.64)(29.521,0.64)(29.656,0.64)};
\addplot[only marks, mark=square*, mark size=1.4pt, color=mixc!70!violet] coordinates {(27.854,0.26)};
\end{axis}
\begin{axis}[R, sh, at={(738pt,-217pt)}, height=70pt, ymin=32.8, ymax=135,
  ytick={132.6,100,80,60}, yticklabels={Desat,100,80,60}, gl={60,45}]
\addplot[draw=desat, line width=5pt, dash pattern=on 2.4pt off 1.2pt] coordinates {(23.6,128.1)(24.0,128.1)(24.0,nan)(24.02,128.1)(24.4,128.1)(24.4,nan)(24.42,128.1)(25.1,128.1)(25.1,nan)(25.13,128.1)(25.6,128.1)(25.6,nan)(25.62,128.1)(26.1,128.1)(26.1,nan)(26.12,128.1)(27.44,128.1)(27.44,nan)(27.47,128.1)(27.54,128.1)(27.54,nan)(27.63,128.1)(27.9,128.1)(27.9,nan)(28.09,128.1)(28.1,128.1)(28.1,nan)(28.19,128.1)(28.29,128.1)(28.29,nan)(28.44,128.1)(28.45,128.1)(28.45,nan)(28.58,128.1)(28.79,128.1)(28.79,nan)(28.83,128.1)(28.94,128.1)(28.94,nan)(29.0,128.1)(29.01,128.1)(29.01,nan)(29.14,128.1)(29.68,128.1)(29.68,nan)(29.75,128.1)(29.76,128.1)(29.76,nan)(29.91,128.1)(29.92,128.1)(29.92,nan)(29.97,128.1)(29.98,128.1)};
\addplot[fill=spo!85, draw=spo, line width=0.6pt] coordinates {(23.56,96)(23.64,95)(23.72,96)(23.80,97)(23.88,96)(23.96,97)(24.04,96)(24.12,97)(24.20,96)(24.28,97)(24.36,96)(24.44,97)(24.52,96)(24.60,97)(24.68,96)(24.76,96)(24.84,95)(24.92,94)(25.00,92)(25.08,94)(25.16,95)(25.24,96)(25.32,97)(25.40,96)(25.48,97)(25.56,96)(25.64,97)(25.72,96)(25.80,97)(25.88,96)(25.96,97)(26.04,96)(26.12,95)(26.20,92)(26.28,93)(26.36,96)(26.44,97)(26.52,98)(26.60,97)(26.68,98)(26.76,97)(26.84,98)(26.92,96)(27.00,97)(27.08,98)(27.16,97)(27.24,98)(27.32,97)(27.40,98)(27.48,97)(27.56,98)(27.64,97)(27.72,98)(27.80,97)(27.88,98)(27.96,97)(28.04,98)(28.12,97)(28.20,98)(28.28,97)(28.36,98)(28.44,97)(28.52,97)(28.60,96)(28.68,97)(28.76,98)(28.84,97)(28.92,96)(29.00,97)(29.08,98)(29.16,97)(29.24,98)(29.32,97)(29.40,95)(29.48,97)(29.56,98)(29.64,97)(29.72,98)(29.80,97)(29.88,98)(29.96,97)(30.00,98)
(30.00,94)(29.96,93)(29.88,94)(29.80,93)(29.72,94)(29.64,93)(29.56,94)(29.48,92)(29.40,87)(29.32,92)(29.24,94)(29.16,93)(29.08,94)(29.00,91)(28.92,88)(28.84,94)(28.76,93)(28.68,94)(28.60,92)(28.52,90)(28.44,92)(28.36,94)(28.28,93)(28.20,94)(28.12,93)(28.04,94)(27.96,93)(27.88,94)(27.80,93)(27.72,94)(27.64,93)(27.56,94)(27.48,93)(27.40,94)(27.32,93)(27.24,94)(27.16,93)(27.08,94)(27.00,93)(26.92,90)(26.84,94)(26.76,93)(26.68,94)(26.60,93)(26.52,94)(26.44,93)(26.36,88)(26.28,80)(26.20,82)(26.12,88)(26.04,92)(25.96,93)(25.88,92)(25.80,93)(25.72,91)(25.64,93)(25.56,92)(25.48,93)(25.40,92)(25.32,93)(25.24,92)(25.16,90)(25.08,86)(25.00,82)(24.92,84)(24.84,87)(24.76,90)(24.68,88)(24.60,90)(24.52,92)(24.44,89)(24.36,91)(24.28,90)(24.20,92)(24.12,91)(24.04,90)(23.96,92)(23.88,91)(23.80,90)(23.72,92)(23.64,89)(23.56,91)} -- cycle;
\end{axis}
\begin{axis}[R, at={(738pt,-287pt)}, height=72pt, ymin=39.6, ymax=69.6,
  ytick={60,50}]
\addplot[draw=tcc, line width=0.8pt] coordinates {(23.557,44)(23.579,44)(23.618,47.5)(23.695,48.9)(23.8,49.8)(23.965,51)(24.15,52.2)(24.351,53)(24.55,53.8)(24.737,54.5)(24.84,55.2)(24.93,56.5)(24.97,55.8)(25.007,55)(25.084,53)(25.161,50)(25.238,53)(25.38,53.5)(25.508,53.8)(25.7,53.7)(25.894,54)(26.049,54.5)(26.126,57.2)(26.203,60.7)(26.24,59.5)(26.28,57.9)(26.357,54.5)(26.434,55)(26.473,53.75)(26.7,53.2)(26.936,52.4)(27.052,53.75)(27.15,52.6)(27.245,52)(27.45,51.6)(27.63,51)(27.823,50.3)(27.92,47.5)(28.016,48.9)(28.2,48.5)(28.402,48.6)(28.556,49.9)(28.67,49)(28.788,48.2)(28.981,46.1)(29.019,48.3)(29.13,48.6)(29.232,49.2)(29.32,48.3)(29.405,48.5)(29.58,48.9)(29.752,48.7)(29.88,48.2)(30.003,47.8)};
\end{axis}
\begin{axis}[R, sh, at={(738pt,-359pt)}, height=70pt, ymin=37.9, ymax=152.3,
  ytick={125,100,75}]
\addplot[draw=hrc, line width=0.7pt] coordinates {(23.56,118)(23.60,114)(23.64,112)(23.68,109)(23.72,107)(23.76,104)(23.80,106)(23.84,103)(23.88,104)(23.92,106)(23.96,103)(24.00,101)(24.04,102)(24.08,105)(24.12,104)(24.16,101)(24.20,102)(24.24,105)(24.28,103)(24.32,100)(24.36,101)(24.40,104)(24.44,103)(24.48,100)(24.52,102)(24.56,105)(24.60,104)(24.64,101)(24.68,103)(24.72,107)(24.76,105)(24.80,110)(24.84,108)(24.88,113)(24.92,116)(24.96,105)(25.00,110)(25.04,120)(25.08,118)(25.12,108)(25.16,106)(25.20,102)(25.24,104)(25.28,106)(25.32,105)(25.36,102)(25.40,103)(25.44,106)(25.48,105)(25.52,102)(25.56,104)(25.60,106)(25.64,105)(25.68,102)(25.72,104)(25.76,107)(25.80,106)(25.84,103)(25.88,104)(25.92,107)(25.96,105)(26.00,103)(26.04,106)(26.08,112)(26.12,118)(26.16,122)(26.20,125)(26.24,116)(26.28,120)(26.32,114)(26.36,112)(26.40,109)(26.44,110)(26.48,113)(26.52,111)(26.56,108)(26.60,109)(26.64,112)(26.68,111)(26.72,108)(26.76,110)(26.80,113)(26.84,112)(26.88,118)(26.92,128)(26.96,118)(27.00,116)(27.04,112)(27.08,114)(27.12,117)(27.16,113)(27.20,119)(27.24,115)(27.28,122)(27.32,118)(27.36,128)(27.40,124)(27.44,117)(27.48,120)(27.52,129)(27.56,126)(27.60,117)(27.64,119)(27.68,128)(27.72,125)(27.76,118)(27.80,121)(27.84,127)(27.88,124)(27.92,116)(27.96,118)(28.00,116)(28.04,117)(28.08,119)(28.12,118)(28.16,116)(28.20,117)(28.24,120)(28.28,119)(28.32,117)(28.36,118)(28.40,121)(28.44,119)(28.48,122)(28.52,121)(28.56,128)(28.60,126)(28.64,121)(28.68,124)(28.72,120)(28.76,133)(28.80,122)(28.84,126)(28.88,121)(28.92,132)(28.96,122)(29.00,125)(29.04,121)(29.08,137)(29.12,124)(29.16,126)(29.20,122)(29.24,128)(29.28,123)(29.32,121)(29.36,124)(29.40,122)(29.44,119)(29.48,120)(29.52,123)(29.56,121)(29.60,119)(29.64,120)(29.68,123)(29.72,121)(29.76,119)(29.80,120)(29.84,122)(29.88,121)(29.92,119)(29.96,120)(30.00,121)};
\addplot[draw=hrc, line width=0.7pt] coordinates {(23.56,110)(23.60,107)(23.64,106)(23.68,102)(23.72,100)(23.76,98)(23.80,99)(23.84,97)(23.88,98)(23.92,99)(23.96,96)(24.00,94)(24.04,95)(24.08,98)(24.12,97)(24.16,94)(24.20,95)(24.24,97)(24.28,96)(24.32,93)(24.36,94)(24.40,97)(24.44,97)(24.48,94)(24.52,95)(24.56,97)(24.60,96)(24.64,94)(24.68,95)(24.72,98)(24.76,97)(24.80,100)(24.84,98)(24.88,102)(24.92,100)(24.96,93)(25.00,94)(25.04,103)(25.08,100)(25.12,94)(25.16,92)(25.20,95)(25.24,98)(25.28,99)(25.32,98)(25.36,96)(25.40,97)(25.44,99)(25.48,99)(25.52,96)(25.56,98)(25.60,99)(25.64,97)(25.68,96)(25.72,98)(25.76,100)(25.80,99)(25.84,96)(25.88,97)(25.92,99)(25.96,98)(26.00,96)(26.04,99)(26.08,104)(26.12,108)(26.16,111)(26.20,110)(26.24,104)(26.28,106)(26.32,104)(26.36,103)(26.40,100)(26.44,101)(26.48,103)(26.52,102)(26.56,99)(26.60,100)(26.64,102)(26.68,101)(26.72,99)(26.76,100)(26.80,103)(26.84,102)(26.88,106)(26.92,108)(26.96,106)(27.00,107)(27.04,104)(27.08,106)(27.12,108)(27.16,105)(27.20,108)(27.24,107)(27.28,110)(27.32,108)(27.36,112)(27.40,110)(27.44,106)(27.48,108)(27.52,112)(27.56,110)(27.60,106)(27.64,109)(27.68,113)(27.72,111)(27.76,107)(27.80,109)(27.84,112)(27.88,110)(27.92,111)(27.96,112)(28.00,111)(28.04,112)(28.08,114)(28.12,113)(28.16,111)(28.20,112)(28.24,114)(28.28,113)(28.32,111)(28.36,112)(28.40,114)(28.44,113)(28.48,115)(28.52,114)(28.56,117)(28.60,115)(28.64,113)(28.68,116)(28.72,113)(28.76,115)(28.80,113)(28.84,116)(28.88,113)(28.92,114)(28.96,112)(29.00,116)(29.04,113)(29.08,117)(29.12,114)(29.16,114)(29.20,112)(29.24,116)(29.28,113)(29.32,114)(29.36,116)(29.40,113)(29.44,111)(29.48,114)(29.52,115)(29.56,113)(29.60,111)(29.64,114)(29.68,115)(29.72,113)(29.76,111)(29.80,114)(29.84,115)(29.88,113)(29.92,111)(29.96,114)(30.00,113)};
\end{axis}
\begin{axis}[R, at={(738pt,-429pt)}, height=48pt, ymin=0, ymax=10,
  ytick={8.54,6.46,0.77}, yticklabels={Snore,high,low}]
\addplot[ev, color=black, mark size=1.6pt] coordinates {(25.084,8.33)};
\addplot[ev, color=black!55, mark size=1.6pt] coordinates {(27.785,8.33)(27.862,8.33)(28.46,8.33)};
\addplot[draw=snc, line width=0.8pt] coordinates {(23.557,0.6)(23.612,0.6)(23.618,4.9)(23.624,0.6)(23.67,0.6)(23.676,3.0)(23.682,0.6)(23.766,0.6)(23.772,4.8)(23.778,0.6)(24.029,0.6)(24.035,2.5)(24.041,0.6)(24.414,0.6)(24.42,2.5)(24.426,0.6)(24.453,0.6)(24.459,3.3)(24.465,0.6)(24.712,0.6)(24.718,3.2)(24.724,0.6)(24.893,0.6)(24.899,2.8)(24.905,0.6)(25.14,0.6)(25.146,2.8)(25.152,0.6)(25.514,0.6)(25.52,3.5)(25.526,0.6)(25.83,0.6)(25.836,2.5)(25.842,0.6)(26.37,0.6)(26.376,2.5)(26.382,0.6)(26.564,0.6)(26.57,2.3)(26.576,0.6)(26.602,0.6)(26.608,2.9)(26.614,0.6)(26.776,0.6)(26.782,4.0)(26.788,0.6)(26.872,0.6)(26.878,3.0)(26.884,0.6)(26.911,0.6)(26.917,2.5)(26.923,0.6)(26.949,0.6)(26.955,3.0)(26.961,0.6)(27.007,0.6)(27.013,3.0)(27.019,0.6)(27.239,0.6)(27.245,3.0)(27.251,0.6)(27.296,0.6)(27.302,4.7)(27.308,0.6)(27.393,0.6)(27.399,4.8)(27.405,0.6)(27.528,0.6)(27.534,3.0)(27.54,0.6)(27.837,0.6)(27.843,2.4)(27.849,0.6)(27.875,0.6)(27.881,2.4)(27.887,0.6)(27.914,0.6)(27.92,2.4)(27.926,0.6)(28.049,0.6)(28.055,2.0)(28.061,0.6)(28.164,0.6)(28.17,2.5)(28.176,0.6)(28.319,0.6)(28.325,2.6)(28.331,0.6)(28.473,0.6)(28.479,5.0)(28.485,0.6)(28.763,0.6)(28.769,2.5)(28.775,0.6)(28.936,0.6)(28.942,2.5)(28.948,0.6)(29.322,0.6)(29.328,2.5)(29.334,0.6)(29.38,0.6)(29.386,2.5)(29.392,0.6)(29.438,0.6)(29.444,4.5)(29.45,0.6)(29.554,0.6)(29.56,3.0)(29.566,0.6)(29.611,0.6)(29.617,3.0)(29.623,0.6)(29.766,0.6)(29.772,3.0)(29.778,0.6)(29.939,0.6)(29.945,1.5)(29.951,0.6)(30.003,0.6)};
\end{axis}
\begin{axis}[R, sh, at={(738pt,-477pt)}, height=47pt, ymin=8.5, ymax=243.5,
  ytick={230,135,90}, yticklabels={RMI,135,90}, gl={90,50}]
\addplot[draw=rmiev, line width=5pt, dash pattern=on 2.4pt off 1.2pt] coordinates {(23.58,208.5)(23.59,208.5)(23.59,nan)(23.753,208.5)(23.763,208.5)(23.763,nan)(23.985,208.5)(23.995,208.5)(23.995,nan)(24.718,208.5)(24.728,208.5)(24.728,nan)(24.81,208.5)(24.82,208.5)(24.82,nan)(24.93,208.5)(24.94,208.5)(24.94,nan)(25.08,208.5)(25.1,208.5)(25.1,nan)(25.13,208.5)(25.15,208.5)(25.15,nan)(25.18,208.5)(25.19,208.5)(25.19,nan)(25.26,208.5)(25.27,208.5)(25.27,nan)(25.497,208.5)(25.507,208.5)(25.507,nan)(26.18,208.5)(26.22,208.5)(26.22,nan)(26.25,208.5)(26.32,208.5)(26.32,nan)(26.35,208.5)(26.36,208.5)(26.36,nan)(26.4,208.5)(26.47,208.5)(26.47,nan)(26.94,208.5)(26.955,208.5)(26.955,nan)(27.03,208.5)(27.04,208.5)(27.04,nan)(27.11,208.5)(27.19,208.5)(27.19,nan)(27.28,208.5)(27.29,208.5)(27.29,nan)(27.34,208.5)(27.35,208.5)(27.35,nan)(27.43,208.5)(27.67,208.5)(27.67,nan)(27.77,208.5)(28.02,208.5)(28.02,nan)(28.75,208.5)(28.76,208.5)(28.76,nan)(28.79,208.5)(28.8,208.5)(28.8,nan)(28.85,208.5)(28.86,208.5)(28.86,nan)(28.94,208.5)(29.02,208.5)(29.02,nan)(29.12,208.5)(29.25,208.5)(29.25,nan)(29.39,208.5)(29.4,208.5)(29.4,nan)(29.6,208.5)(29.61,208.5)};
\addplot[draw=rmic, line width=0.8pt] coordinates {(23.557,12)(23.565,12)(23.58,45)(23.595,12)(23.738,12)(23.753,40)(23.768,12)(23.97,12)(23.985,20)(24.0,12)(24.683,12)(24.698,30)(24.713,12)(24.799,12)(24.814,28)(24.829,12)(24.915,12)(24.93,35)(24.945,12)(25.069,12)(25.084,78)(25.099,30)(25.127,30)(25.142,78)(25.157,12)(25.185,12)(25.2,60)(25.215,12)(25.243,12)(25.258,30)(25.273,12)(26.169,12)(26.184,35)(26.199,12)(26.226,12)(26.241,40)(26.256,12)(26.285,12)(26.3,45)(26.315,12)(26.323,12)(26.338,62)(26.353,12)(26.381,12)(26.396,40)(26.411,12)(26.439,12)(26.454,65)(26.469,12)(26.902,12)(26.917,45)(26.932,12)(27.017,12)(27.032,30)(27.047,12)(27.075,15)(27.09,65)(27.105,15)(27.133,15)(27.148,70)(27.163,15)(27.191,15)(27.206,65)(27.221,15)(27.249,15)(27.264,70)(27.279,15)(27.287,15)(27.302,60)(27.317,15)(27.326,15)(27.341,70)(27.356,15)(27.403,15)(27.418,75)(27.433,15)(27.442,15)(27.457,60)(27.472,15)(27.5,15)(27.515,65)(27.53,15)(27.558,15)(27.573,55)(27.588,15)(27.615,15)(27.63,50)(27.645,15)(27.693,15)(27.708,40)(27.723,15)(27.75,15)(27.765,55)(27.78,15)(27.808,15)(27.823,60)(27.838,15)(27.866,15)(27.881,50)(27.896,15)(27.982,12)(27.997,25)(28.012,12)(28.715,12)(28.73,20)(28.745,12)(28.792,12)(28.807,70)(28.822,12)(28.869,12)(28.884,35)(28.899,12)(28.927,12)(28.942,45)(28.957,12)(28.985,12)(29.0,55)(29.015,12)(29.12,12)(29.135,72)(29.15,12)(29.197,12)(29.212,35)(29.227,12)(29.352,12)(29.367,25)(29.382,12)(29.545,12)(29.56,20)(29.575,12)(30.003,12)};
\end{axis}
\begin{axis}[R, sh, at={(738pt,-524pt)}, height=119pt, ymin=0, ymax=223.3,
  ytick={185,153,120.6,90,60,30}, yticklabels={Central,Mixed,Obstructive,90,60,30}]
\addplot[ev, color=cenc, mark size=2.2pt] coordinates {(23.71,177)(23.75,177)(23.81,177)(24.04,177)(24.14,177)(24.27,177)(24.33,177)(24.39,177)(24.43,177)(24.47,177)(24.51,177)(24.55,177)(24.58,177)(24.70,177)(24.81,177)(24.97,177)(25.10,177)(25.14,177)(25.18,177)(25.22,177)(25.26,177)(25.35,177)(25.41,177)(25.64,177)(25.76,177)(25.91,177)(26.09,177)(26.13,177)(26.26,177)(26.34,177)(28.807,177)(28.865,177)};
\addplot[ev, color=mixc, mark size=2.2pt] coordinates {(23.965,146)(24.93,146)(24.968,146)(26.145,146)(26.376,146)(26.415,146)(26.53,146)(26.685,146)};
\addplot[ev, color=obsc, mark size=2.2pt] coordinates {(24.37,113)(25.084,113)(25.497,113)(26.2,113)(26.318,113)(26.454,113)};
\addplot[ycomb, draw=apc, line width=0.9pt] coordinates {(23.753,11)(23.896,11)(24.073,12)(24.282,10)(24.409,11)(24.505,10)(24.64,10)(24.756,11)(24.845,16)(24.891,14)(25.103,10)(25.123,11)(25.142,10)(25.285,11)(25.354,10)(25.694,10)(25.836,11)(26.01,10)(26.049,11)(26.08,12)(26.28,10)(26.3,12)(26.338,11)(26.396,10)(26.465,10)(26.62,14)(28.741,9)};
\end{axis}
\begin{axis}[R, sh, at={(738pt,-643pt)}, height=117pt, ymin=0, ymax=216.7,
  ytick={90,60,30}, gl={30}]
\addplot[ycomb, draw=hypr, line width=0.9pt] coordinates {(26.106,18)(26.195,14)(26.403,12)(26.955,20)(26.994,12)(27.476,10)(27.573,20)(27.746,10)(27.804,26)(28.807,12)(28.95,11)(29.05,10)(29.143,10)(29.22,12)};
\end{axis}
\begin{axis}[R, sh, at={(738pt,-760pt)}, height=48pt, ymin=0, ymax=101.5,
  ytick={90,60,30}, ymajorgrids]
\end{axis}
\begin{axis}[lbl, at={(738pt,-28pt)}, height=780pt, xmin=23.557, xmax=30.003,
  xtick={24,25,26,27,28,29,30}, xticklabels={00:00,01:00,02:00,03:00,04:00,05:00,06:00}, xticklabel pos=upper]
\end{axis}
\begin{axis}[lbl, at={(738pt,-28pt)}, height=780pt, xmin=23.557, xmax=30.003,
  xtick={24,25,26,27,28,29,30}, xticklabels={00:00,01:00,02:00,03:00,04:00,05:00,06:00}]
\end{axis}
\sidelab{709}{267}{SpO2\\{[\%]}}
\sidelab{710}{327}{TCCO2\\{[mmHg]}}
\sidelab{710}{397}{Heart Rate\\{[bpm]}}
\sidelab{709}{464}{Snore}
\sidelab{708}{517}{RMI}
\sidelab{710}{620}{Apnea\\{[seconds]}}
\sidelab{710}{738}{Hypopnea\\{[seconds]}}
\sidelab{710}{788}{Autonomic\\{[seconds]}}
% watermarks
\node[rotate=46, text=black, opacity=0.17, font=\wmfont\fontsize{48}{48}\selectfont] at (345pt,-350pt) {0072.172.30.60.28 2020/09/04 11:08};
\node[rotate=46, text=black, opacity=0.17, font=\wmfont\fontsize{48}{48}\selectfont] at (988pt,-345pt) {0072.172.30.60.28 2020/09/04 11:08};
\end{tikzpicture}
\end{document}
